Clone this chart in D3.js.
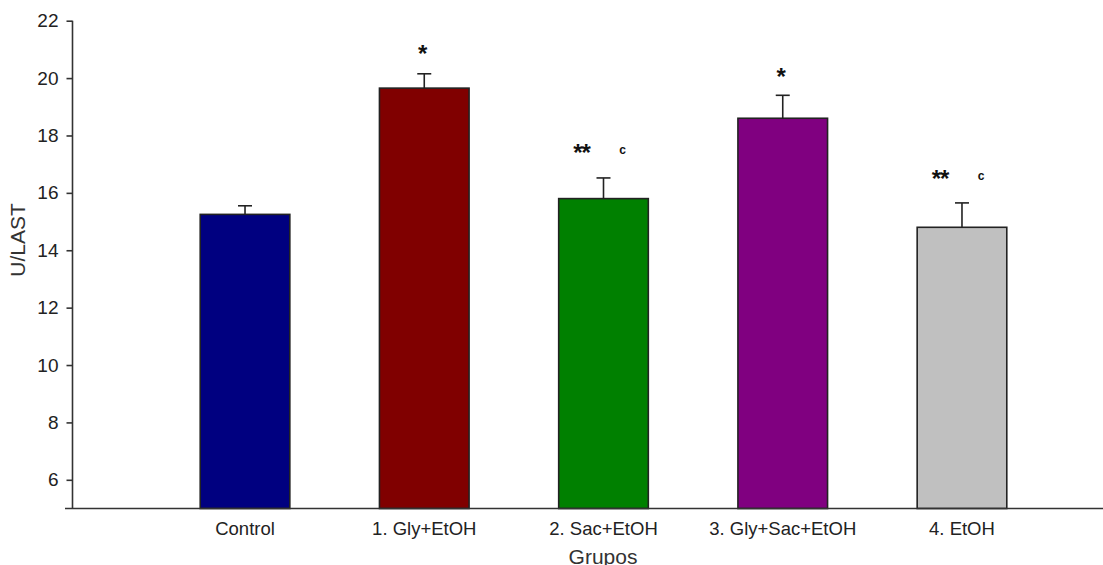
<!DOCTYPE html>
<html>
<head>
<meta charset="utf-8">
<script src="https://cdn.jsdelivr.net/npm/d3@7"></script>
<style>
  html, body { margin: 0; padding: 0; background: #fff; }
  svg { display: block; font-family: Arial, "Liberation Sans", sans-serif; }
</style>
</head>
<body>
<div id="chart"></div>
<script>
/* ===== DATA ===== */
const groups = ["Control", "1. Gly+EtOH", "2. Sac+EtOH", "3. Gly+Sac+EtOH", "4. EtOH"];
const means = [15.25, 19.65, 15.8, 18.6, 14.8];
const errors = [0.3, 0.5, 0.72, 0.8, 0.85];
const barColors = ["#000080", "#800000", "#008000", "#800080", "#c0c0c0"];
const starMarks = ["", "*", "**", "*", "**"];
const letterMarks = ["", "", "c", "", "c"];
const markLevels = [null, 20.95, 17.5, 20.15, 16.6];
const yTicks = [6, 8, 10, 12, 14, 16, 18, 20, 22];

/* ===== DIMENSIONS ===== */
const width = 1103;
const height = 565;
const axisX = 72.5;
const axisY = 508.5;
const font = "Arial, 'Liberation Sans', sans-serif";

const svg = d3.select("#chart")
    .append("svg")
    .attr("width", width)
    .attr("height", height);

/* ===== SCALES ===== */
const y = d3.scaleLinear()
    .domain([5, 22])
    .range([axisY, 20.7]);

const x = d3.scaleBand()
    .domain(groups)
    .range([155.4, 1051.6])
    .paddingInner(0.5)
    .paddingOuter(0.25);

const rows = groups.map((g, i) => ({
    group: g,
    mean: means[i],
    err: errors[i],
    color: barColors[i],
    stars: starMarks[i],
    letter: letterMarks[i],
    level: markLevels[i]
}));

const mid = d => x(d.group) + x.bandwidth() / 2;

/* ===== BARS ===== */
svg.append("g")
    .selectAll("rect")
    .data(rows)
    .enter()
    .append("rect")
    .attr("x", d => x(d.group))
    .attr("y", d => y(d.mean))
    .attr("width", x.bandwidth())
    .attr("height", d => axisY - y(d.mean))
    .attr("fill", d => d.color)
    .attr("stroke", "#222")
    .attr("stroke-width", 1.6);

/* ===== ERROR BARS ===== */
const errG = svg.append("g")
    .attr("stroke", "#222")
    .attr("stroke-width", 1.6);

errG.selectAll("line.stem")
    .data(rows)
    .enter()
    .append("line")
    .attr("class", "stem")
    .attr("x1", mid)
    .attr("x2", mid)
    .attr("y1", d => y(d.mean))
    .attr("y2", d => y(d.mean + d.err));

errG.selectAll("line.cap")
    .data(rows)
    .enter()
    .append("line")
    .attr("class", "cap")
    .attr("x1", d => mid(d) - 7)
    .attr("x2", d => mid(d) + 7)
    .attr("y1", d => y(d.mean + d.err))
    .attr("y2", d => y(d.mean + d.err));

/* ===== SIGNIFICANCE MARKS ===== */
const marked = rows.filter(d => d.level !== null);

svg.append("g")
    .selectAll("text")
    .data(marked)
    .enter()
    .append("text")
    .attr("x", d => mid(d) + (d.letter ? -22 : -2))
    .attr("y", d => y(d.level) + 11)
    .attr("text-anchor", "middle")
    .attr("font-size", 24)
    .attr("font-weight", "bold")
    .attr("letter-spacing", -1)
    .attr("fill", "#111")
    .text(d => d.stars);

svg.append("g")
    .selectAll("text")
    .data(marked.filter(d => d.letter))
    .enter()
    .append("text")
    .attr("x", d => mid(d) + 19)
    .attr("y", d => y(d.level) + 4)
    .attr("text-anchor", "middle")
    .attr("font-size", 12)
    .attr("font-weight", "bold")
    .attr("fill", "#111")
    .text(d => d.letter);

/* ===== AXES ===== */
const yAxis = svg.append("g")
    .attr("transform", `translate(${axisX},0)`)
    .call(d3.axisLeft(y).tickValues(yTicks).tickSize(6).tickPadding(8).tickSizeOuter(0));

yAxis.select(".domain")
    .attr("d", `M0,${y(22)}V${axisY}`)
    .attr("stroke", "#333")
    .attr("stroke-width", 1.6);
yAxis.selectAll(".tick line").attr("stroke", "#333").attr("stroke-width", 1.6);
yAxis.selectAll(".tick text")
    .attr("font-size", 19)
    .attr("font-family", font)
    .attr("fill", "#222");

const xAxis = svg.append("g")
    .attr("transform", `translate(0,${axisY})`)
    .call(d3.axisBottom(x).tickSize(0).tickPadding(13));

xAxis.select(".domain")
    .attr("d", `M65,0H${width}`)
    .attr("stroke", "#333")
    .attr("stroke-width", 1.6);
xAxis.selectAll(".tick text")
    .attr("font-size", 18.5)
    .attr("font-family", font)
    .attr("fill", "#222");

/* ===== AXIS TITLES ===== */
svg.append("text")
    .attr("x", 603)
    .attr("y", 564)
    .attr("text-anchor", "middle")
    .attr("font-size", 21)
    .attr("fill", "#333")
    .text("Grupos");

svg.append("text")
    .attr("transform", `translate(25,240) rotate(-90)`)
    .attr("text-anchor", "middle")
    .attr("font-size", 21)
    .attr("fill", "#333")
    .text("U/LAST");
</script>
</body>
</html>
